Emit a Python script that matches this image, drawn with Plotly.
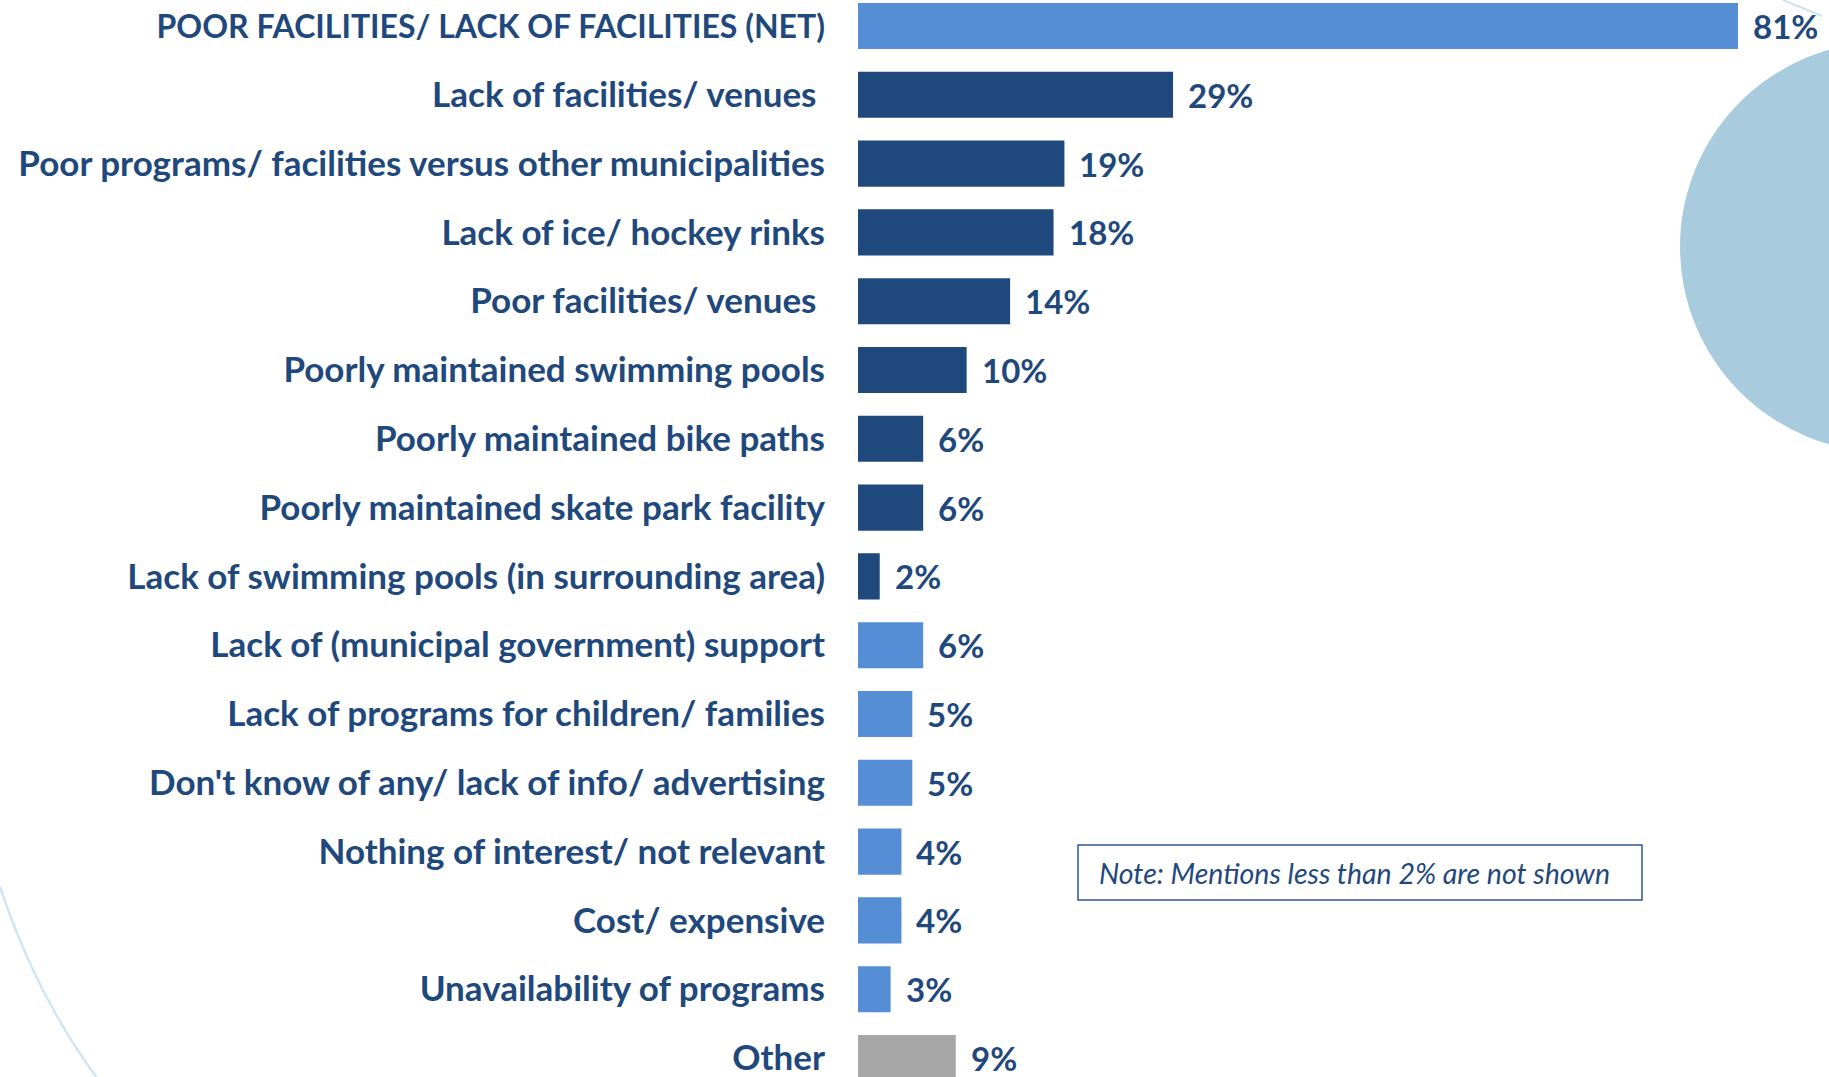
import plotly.graph_objects as go

categories = [
    "POOR FACILITIES/ LACK OF FACILITIES (NET)",
    "Lack of facilities/ venues\u00a0",
    "Poor programs/ facilities versus other municipalities",
    "Lack of ice/ hockey rinks",
    "Poor facilities/ venues\u00a0",
    "Poorly maintained swimming pools",
    "Poorly maintained bike paths",
    "Poorly maintained skate park facility",
    "Lack of swimming pools (in surrounding area)",
    "Lack of (municipal government) support",
    "Lack of programs for children/ families",
    "Don't know of any/ lack of info/ advertising",
    "Nothing of interest/ not relevant",
    "Cost/ expensive",
    "Unavailability of programs",
    "Other",
]
values = [81, 29, 19, 18, 14, 10, 6, 6, 2, 6, 5, 5, 4, 4, 3, 9]
groups = ["net", "sub", "sub", "sub", "sub", "sub", "sub", "sub", "sub",
          "main", "main", "main", "main", "main", "main", "other"]
note_text = "Note: Mentions less than 2% are not shown"

group_colors = {"net": "#558ED5", "sub": "#1F497D", "main": "#558ED5", "other": "#A6A6A6"}
TEXT = "#1F497D"
FONT = "Lato"

W, H = 1829, 1077
L = 858
PW = W - L


def px(x):
    return (x - L) / PW


def py(y):
    return 1 - y / H


tick_text = [f"<span style='font-size:32px'>{c}</span>" if g == "net" else c
             for c, g in zip(categories, groups)]

fig = go.Figure()
fig.add_trace(go.Bar(
    x=values,
    y=categories,
    orientation="h",
    marker=dict(color=[group_colors[g] for g in groups], line=dict(width=0)),
    width=0.67,
    hoverinfo="x+y",
))

for c, v in zip(categories, values):
    fig.add_annotation(x=v, y=c, text=f"{v}%", xanchor="left", yanchor="middle",
                       xshift=13, showarrow=False,
                       font=dict(family=FONT, size=33, color=TEXT, weight="bold"))

# decorative shapes
shapes = []
cx, cy, r = 1885, 247, 205
shapes.append(dict(type="circle", xref="paper", yref="paper",
                   x0=px(cx - r), x1=px(cx + r), y0=py(cy + r), y1=py(cy - r),
                   fillcolor="#A9CBDE", line=dict(width=0), layer="below"))
shapes.append(dict(type="line", xref="paper", yref="paper",
                   x0=px(1783), y0=py(0), x1=px(1822), y1=py(16),
                   line=dict(color="#CFE3EE", width=2), layer="below"))
# bottom-left arc
p0 = (0, 887); c1 = (37, 998); p2 = (100, 1082)
path = (f"M {px(p0[0])},{py(p0[1])} Q {px(c1[0])},{py(c1[1])} {px(p2[0])},{py(p2[1])}")
shapes.append(dict(type="path", xref="paper", yref="paper", path=path,
                   line=dict(color="#D2E6F0", width=2.5), layer="below"))
# note box
shapes.append(dict(type="rect", xref="paper", yref="paper",
                   x0=px(1078), x1=px(1642), y0=py(900), y1=py(845),
                   line=dict(color="#2F5597", width=1.5), fillcolor="rgba(0,0,0,0)"))

fig.add_annotation(xref="paper", yref="paper", x=px(1097), y=py(873),
                   xanchor="left", yanchor="middle", text=note_text, showarrow=False,
                   font=dict(family=FONT, size=28.5, color=TEXT, style="italic"))

n = len(categories)
fig.update_layout(
    width=W, height=H,
    margin=dict(l=L, r=0, t=0, b=0, pad=0),
    paper_bgcolor="white", plot_bgcolor="rgba(0,0,0,0)",
    showlegend=False,
    bargap=0.33,
    shapes=shapes,
    xaxis=dict(visible=False, range=[0, PW / 10.864], fixedrange=True),
    yaxis=dict(
        type="category",
        categoryorder="array", categoryarray=categories,
        tickmode="array", tickvals=categories, ticktext=tick_text,
        range=[n - 1 + 19 / 68.8, -26 / 68.8],
        showgrid=False, zeroline=False, showline=False, ticks="",
        ticklabelstandoff=32,
        tickfont=dict(family=FONT, size=35, color=TEXT, weight="bold"),
    ),
)

fig.write_html("out.html", config={"displayModeBar": False},
               post_script="document.body.style.margin='0';document.body.style.overflow='hidden';")
